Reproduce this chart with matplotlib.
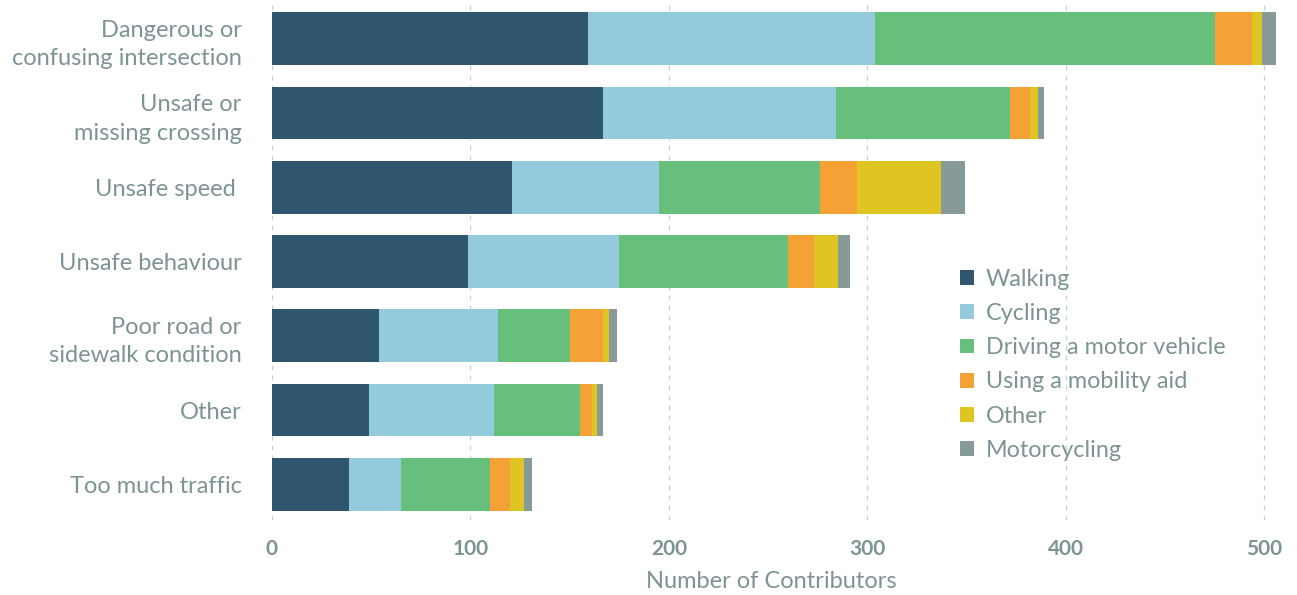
import matplotlib.pyplot as plt
import numpy as np

categories = ['Dangerous or\nconfusing intersection', 'Unsafe or\nmissing crossing', 'Unsafe speed ',
              'Unsafe behaviour', 'Poor road or\nsidewalk condition', 'Other', 'Too much traffic']
modes = ['Walking', 'Cycling', 'Driving a motor vehicle', 'Using a mobility aid', 'Other', 'Motorcycling']
walking = [159, 167, 121, 99, 54, 49, 39]
cycling = [145, 117, 74, 76, 60, 63, 26]
driving = [171, 88, 81, 85, 36, 43, 45]
mobility_aid = [19, 10, 19, 13, 17, 6, 10]
other = [5, 4, 42, 12, 3, 3, 7]
motorcycling = [7, 3, 12, 6, 4, 3, 4]
colors = ['#30566f', '#93cbdc', '#66bf7a', '#f4a236', '#dfc522', '#869a9a']

text_color = '#7c9494'
plt.rcParams['font.family'] = ['Lato', 'DejaVu Sans']

fig = plt.figure(figsize=(12.97, 5.95), dpi=100)
ax = fig.add_axes([0.2097, 0.126, 0.785, 0.874])

y = np.arange(len(categories))
left = np.zeros(len(categories))
for vals, label, c in zip([walking, cycling, driving, mobility_aid, other, motorcycling], modes, colors):
    ax.barh(y, vals, left=left, height=0.71, color=c, label=label, zorder=2)
    left += np.array(vals)

ax.set_ylim(6.48, -0.52)
ax.set_xlim(0, 513)
ax.set_xticks([0, 100, 200, 300, 400, 500])
ax.set_yticks(y)
ax.set_yticklabels(categories, ha='right', multialignment='right', linespacing=1.45)
ax.tick_params(axis='y', length=0, pad=22, labelsize=17, labelcolor=text_color)
ax.tick_params(axis='x', length=0, pad=14, labelsize=15, labelcolor=text_color)
for t in ax.get_xticklabels():
    t.set_fontweight('bold')
ax.grid(axis='x', color='#c5d3d6', linestyle=(0, (4, 4)), linewidth=0.9, zorder=0)
for s in ax.spines.values():
    s.set_visible(False)
ax.set_xlabel('Number of Contributors', fontsize=17, color=text_color, labelpad=8)
ax.xaxis.label.set_x(0.49)

leg = ax.legend(loc='upper left', bbox_to_anchor=(0.655, 0.524), frameon=False, fontsize=16.8,
                handlelength=0.6, handleheight=0.6, handletextpad=0.5, labelspacing=0.57)
for t in leg.get_texts():
    t.set_color(text_color)

fig.savefig('out.png', dpi=100)
